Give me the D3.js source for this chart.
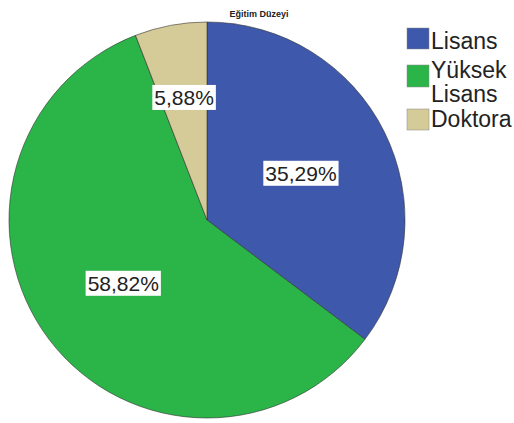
<!DOCTYPE html>
<html lang="tr">
<head>
    <meta charset="UTF-8">
    <title>Eğitim Düzeyi</title>
    <style>
      body { margin: 0; background: #fff; }
      svg { display: block; font-family: "Liberation Sans", Arial, sans-serif; }
    </style>
</head>
<body>
    <svg></svg>
    <script src="https://d3js.org/d3.v7.min.js"></script>
    <script>
      const title = "Eğitim Düzeyi";
      const categories = ["Lisans", "Yüksek Lisans", "Doktora"];
      const legendLines = [["Lisans"], ["Yüksek", "Lisans"], ["Doktora"]];
      const values = [35.29, 58.82, 5.88];
      const labels = ["35,29%", "58,82%", "5,88%"];
      const colors = ["#3e58ac", "#2bb548", "#d5cb98"];

      const width = 514;
      const height = 423;
      const cx = 207, cy = 220, radius = 198;

      const svg = d3.select('svg').attr('width', width).attr('height', height)

      const data = categories.map((c, i) => ({name: c, value: values[i], label: labels[i], color: colors[i]}))

      const pie = d3.pie().sort(null).value(d => d.value)
      const arc = d3.arc().innerRadius(0).outerRadius(radius)
      const arcs = pie(data)

      const g = svg.append("g").attr("transform", `translate(${cx},${cy})`)

      g.selectAll("path")
        .data(arcs)
        .join("path")
          .attr("d", arc)
          .attr("fill", d => d.data.color)
          .attr("stroke", "#333")
          .attr("stroke-width", 0.6)

      // label position: small slices sit further out
      const labelPos = d => {
        const k = d.data.value < 10 ? 0.63 : 0.53
        return d3.arc().innerRadius(radius * k).outerRadius(radius * k).centroid(d)
      }

      const lab = g.selectAll("g.lab")
        .data(arcs)
        .join("g")
          .attr("class", "lab")
          .attr("transform", d => `translate(${labelPos(d)})`)

      lab.append("text")
          .attr("text-anchor", "middle")
          .attr("dy", "0.36em")
          .attr("font-size", 21)
          .attr("fill", "#222")
          .text(d => d.data.label)

      lab.each(function() {
        const t = d3.select(this).select("text")
        const b = t.node().getBBox()
        d3.select(this).insert("rect", "text")
          .attr("x", b.x - 2).attr("y", b.y - 1)
          .attr("width", b.width + 4).attr("height", b.height + 2)
          .attr("fill", "#fff")
      })

      svg.append("text")
          .attr("x", 259).attr("y", 17)
          .attr("text-anchor", "middle")
          .attr("font-size", 9)
          .attr("font-weight", "bold")
          .attr("fill", "#222")
          .text(title)

      // legend
      const rows = [{y: 28, size: 21}, {y: 65, size: 22}, {y: 109, size: 21}]
      const baselines = [[49], [78, 102], [127]]
      const legend = svg.append("g")
      data.forEach((d, i) => {
        legend.append("rect")
          .attr("x", 407).attr("y", rows[i].y)
          .attr("width", 22).attr("height", rows[i].size)
          .attr("fill", d.color)
          .attr("stroke", "#888")
          .attr("stroke-width", 0.5)
        legendLines[i].forEach((line, j) => {
          legend.append("text")
            .attr("x", 431).attr("y", baselines[i][j])
            .attr("font-size", 23)
            .attr("fill", "#222")
            .text(line)
        })
      })
    </script>
</body>
</html>
